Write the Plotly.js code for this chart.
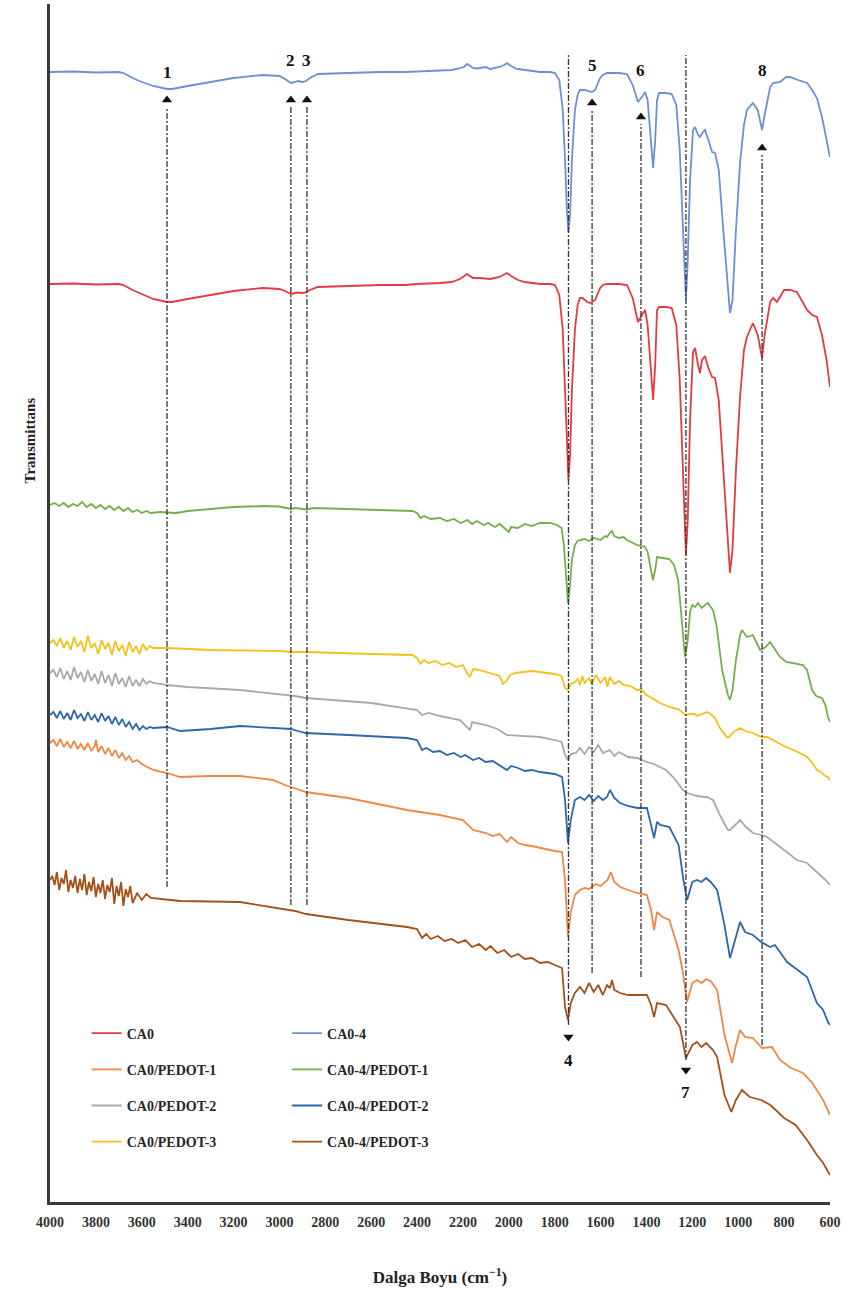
<!DOCTYPE html>
<html><head><meta charset="utf-8">
<script src="https://cdn.plot.ly/plotly-3.0.1.min.js"></script>
<style>html,body{margin:0;padding:0;background:#fff;} #chart{width:847px;height:1292px;}</style>
</head><body><div id="chart"></div>
<script>
// ---- Data (wavenumber in cm^-1, transmittance in arbitrary offset units) ----
const CA04_wn = [4000,3900,3800,3700,3680,3640,3600,3550,3490,3468,3400,3300,3200,3072,3000,2975,2950,2930,2919,2900,2884,2867,2832,2700,2560,2450,2400,2300,2250,2230,2213,2195,2182,2170,2156,2140,2126,2100,2082,2060,2040,2020,2008,1990,1975,1960,1930,1900,1864,1820,1799,1780,1765,1755,1747,1740,1733,1725,1712,1700,1690,1670,1655,1637,1624,1602,1590,1572,1520,1485,1460,1441,1437,1420,1406,1395,1380,1371,1362,1354,1345,1314,1290,1270,1255,1240,1228,1220,1210,1197,1188,1175,1167,1154,1145,1130,1114,1101,1085,1065,1045,1036,1025,1010,992,975,962,936,915,896,885,861,848,818,790,774,740,700,678,657,635,615,600];
const CA04_T = [1130,1130.5,1129.5,1130,1129,1124,1120,1116,1113,1113,1116,1120,1124,1127,1126,1123,1119,1120,1121,1120,1121,1124,1128,1129,1130,1130,1130.5,1131,1132,1133,1134,1135,1138,1136,1134,1133.5,1134,1135,1133,1134,1135,1137,1139,1136,1134,1133,1132,1131,1130,1130,1129,1122,1092,1042,992,970,987,1042,1092,1107,1112,1112,1111,1110,1112,1124,1127,1129,1129,1128,1117,1102,1100,1105,1110,1102,1062,1034,1062,1102,1109,1109,1108,1097,1052,962,902,942,1022,1072,1075,1067,1065,1070,1072,1062,1050,1049,1032,972,912,889,902,972,1039,1077,1092,1099,1092,1072,1087,1115,1119,1120,1125,1125,1122,1119,1112,1104,1085,1062,1045];

const CA0_wn = [4000,3900,3800,3700,3680,3640,3600,3550,3490,3468,3400,3300,3200,3072,3000,2975,2950,2930,2919,2900,2884,2867,2832,2700,2560,2450,2400,2300,2250,2213,2182,2170,2156,2126,2082,2040,2008,1990,1960,1930,1900,1864,1820,1799,1780,1765,1755,1747,1740,1733,1725,1712,1700,1690,1678,1659,1646,1637,1624,1602,1590,1572,1520,1485,1460,1441,1437,1420,1406,1395,1380,1371,1362,1354,1345,1314,1290,1270,1255,1240,1228,1220,1210,1197,1188,1175,1167,1158,1145,1130,1114,1101,1085,1065,1045,1036,1025,1010,992,975,962,936,915,896,885,861,848,840,831,800,774,744,700,678,657,635,615,600];
const CA0_T = [918,918.5,917.5,918,917,912,908,903,900,900,903,907,911,914,913,911,908,909,909.5,909,909.5,912,915,916,917,917,918,919,920,923,928,926,924,924,923,925,929,926,922,920,919,918,918,917,907,872,812,752,722,747,812,872,897,904,904,900,899,900,902,914,917,918,918,917,904,884,880,887,892,877,832,802,837,892,895,895,894,877,822,722,647,682,782,850,854,837,829,842,846,834,825,824,802,732,657,629,652,732,805,852,865,879,867,844,867,900,904,902,900,912,912,910,892,887,885,867,842,815];

const CA04P1_wn = [4000,3980,3960,3940,3920,3900,3880,3860,3840,3820,3800,3780,3760,3740,3720,3700,3680,3660,3640,3620,3600,3580,3560,3520,3490,3450,3400,3300,3200,3072,3000,2950,2930,2900,2884,2850,2700,2550,2420,2400,2385,2370,2340,2300,2270,2240,2210,2180,2160,2140,2110,2090,2060,2040,2010,2000,1990,1960,1930,1900,1864,1820,1790,1770,1760,1750,1742,1735,1725,1712,1700,1690,1670,1650,1630,1600,1580,1572,1560,1550,1540,1520,1500,1485,1460,1441,1420,1406,1395,1380,1372,1362,1354,1330,1300,1280,1262,1250,1240,1232,1220,1210,1200,1188,1175,1160,1145,1132,1120,1110,1095,1070,1045,1036,1025,1010,992,984,962,936,905,880,861,840,818,790,718,700,690,678,660,635,620,609,600];
const CA04P1_T = [697,699,696,699,695,698,696,700,695,698,694,697,693,696,692,695,691,694,690,692,689,691,689,690,689.5,689,691,693,695,696,695.5,693,694,693,692.5,694,693,692,691,689,684,686,683,684,681,683,679,682,678,681,677,679,675,678,672,670,675,674,678,676,679,679,677,674,657,622,599,612,642,657,661,662,663,661,664,662,666,665,669,671,666,664,665,662,659,657,656,655,650,632,622,632,645,644,643,637,622,592,562,545,562,590,597,595,599,594,597,599,595,592,577,532,507,502,512,542,567,572,565,567,552,555,560,552,545,540,537,532,524,512,506,504,497,485,480];

const CA0P3_wn = [4000,3985,3970,3955,3940,3925,3910,3895,3880,3865,3850,3835,3820,3805,3790,3775,3760,3745,3730,3715,3700,3685,3670,3655,3640,3625,3610,3595,3580,3565,3550,3490,3300,3000,2950,2880,2600,2420,2400,2385,2370,2350,2320,2290,2260,2230,2200,2185,2170,2155,2130,2100,2070,2040,2025,2010,1995,1970,1940,1900,1864,1800,1770,1755,1742,1730,1712,1700,1690,1680,1670,1650,1640,1620,1600,1580,1570,1560,1540,1520,1500,1470,1440,1420,1400,1370,1340,1300,1262,1240,1228,1210,1190,1180,1160,1136,1120,1101,1080,1050,1040,1020,992,970,936,900,874,848,800,740,700,670,657,640,620,609,600];
const CA0P3_T = [559,562,556,564,554,561,552,565,555,561,550,566,554,559,548,562,553,559,547,561,551,557,546,560,550,556,548,558,552,556,554,554,552,551,550,550,548,547,544,538,542,539,541,537,539,535,537,530,525,533,532,530,528,526,518,521,527,529,530,531,530,528,526,514,512,518,520,523,517,526,519,524,518,527,519,525,515,525,518,521,517,516,512,512,507,503,499,495,493,489,487,488,488,486,488,490,488,484,474,465,465,470,474,471,469,465,465,462,456,450,445,437,432,430,426,425,422];

const CA0P2_wn = [4000,3985,3970,3955,3940,3925,3910,3895,3880,3865,3850,3835,3820,3805,3790,3775,3760,3745,3730,3715,3700,3685,3670,3655,3640,3625,3610,3595,3580,3565,3550,3490,3400,3172,2932,2884,2600,2444,2400,2378,2350,2300,2260,2213,2169,2160,2100,2050,2008,1950,1900,1864,1800,1770,1755,1742,1730,1708,1690,1670,1650,1630,1610,1590,1560,1540,1520,1480,1440,1400,1367,1340,1315,1280,1254,1241,1223,1200,1180,1145,1136,1120,1110,1080,1045,1036,1020,992,970,936,900,874,840,800,744,700,657,620,600];
const CA0P2_T = [529,532,525,534,523,531,522,535,524,530,520,532,521,528,518,531,519,527,516,529,518,524,515,526,516,522,516,523,518,521,519,517,515,512,506,504,499,494,492,487,489,486,484,482,472,480,477,473,467,466,465,465,462,460,447,442,448,449,454,448,455,450,457,449,452,446,450,445,444,440,438,435,432,424,416,412,409,407,406,405,405,403,402,387,372,372,376,382,376,369,367,365,359,352,342,339,330,322,317];

const CA04P2_wn = [4000,3985,3970,3955,3940,3925,3910,3895,3880,3865,3850,3835,3820,3805,3790,3775,3760,3745,3730,3715,3700,3685,3670,3655,3640,3625,3610,3595,3580,3565,3550,3490,3433,3300,3172,3000,2950,2920,2884,2700,2444,2400,2378,2360,2330,2300,2270,2240,2210,2190,2156,2130,2100,2070,2040,2008,1990,1960,1930,1900,1864,1800,1768,1755,1742,1730,1712,1690,1670,1650,1630,1610,1590,1572,1559,1540,1515,1480,1441,1398,1380,1367,1354,1340,1300,1260,1241,1223,1200,1180,1160,1140,1120,1092,1060,1036,1020,992,970,936,900,861,840,787,700,657,630,609,600];
const CA04P2_T = [487,490,484,491,483,489,482,492,484,488,481,490,482,487,480,489,481,486,478,485,477,483,475,480,473,478,472,476,473,475,474,475,471,473,476,474,473,471,469,467,464,462,452,454,450,451,447,449,445,447,442,444,440,441,437,432,436,434,431,432,430,428,425,402,359,382,402,405,402,407,401,406,402,405,412,404,399,396,394,394,377,364,380,377,375,357,325,302,320,322,320,324,320,312,277,244,257,280,270,267,260,255,257,240,225,199,192,180,177];

const CA0P1_wn = [4000,3985,3970,3955,3940,3925,3910,3895,3880,3865,3850,3835,3820,3805,3800,3790,3775,3760,3745,3730,3715,3700,3685,3670,3655,3640,3620,3600,3550,3490,3433,3300,3172,3028,2976,2932,2884,2700,2444,2300,2200,2156,2100,2070,2040,2008,1990,1960,1930,1900,1864,1800,1768,1755,1742,1730,1712,1690,1670,1650,1620,1600,1570,1555,1540,1515,1480,1441,1398,1380,1367,1354,1330,1300,1260,1241,1223,1200,1180,1160,1140,1120,1092,1060,1027,1010,992,970,936,896,853,818,770,718,680,657,630,600];
const CA0P1_T = [459,462,456,463,455,460,454,461,453,458,452,459,451,456,462,450,456,448,454,446,452,444,449,442,446,440,442,438,432,429,425,426,426,422,417,414,410,404,392,387,382,372,369,366,368,360,365,359,357,356,354,351,350,322,265,290,307,312,314,313,318,316,322,330,320,315,312,309,307,292,272,290,285,282,252,229,200,219,222,219,223,221,212,167,139,157,172,165,164,154,155,142,134,129,120,112,102,87];

const CA04P3_wn = [4000,3990,3980,3970,3960,3950,3940,3930,3920,3910,3900,3890,3880,3870,3860,3850,3840,3830,3820,3810,3800,3790,3780,3770,3760,3750,3740,3730,3720,3710,3700,3690,3680,3670,3660,3650,3640,3620,3600,3580,3560,3490,3433,3172,3000,2932,2884,2700,2444,2400,2378,2360,2340,2310,2280,2250,2220,2190,2160,2130,2100,2080,2050,2020,1990,1960,1930,1900,1864,1830,1800,1768,1755,1742,1730,1712,1690,1670,1650,1630,1610,1590,1572,1559,1550,1540,1515,1480,1441,1398,1380,1367,1354,1315,1254,1240,1228,1200,1180,1160,1140,1110,1092,1060,1030,1010,984,950,900,860,800,750,700,657,630,600];
const CA04P3_T = [322,326,317,330,312,324,318,332,310,322,314,326,309,323,312,328,307,320,311,325,305,318,309,322,303,317,310,324,298,316,306,320,296,313,305,316,299,309,302,308,304,302,301,300,294,291,288,282,275,273,264,268,263,266,261,263,259,262,255,258,252,256,249,252,245,248,243,244,239,240,237,234,195,182,199,209,215,209,219,210,217,207,217,214,222,212,209,207,207,207,197,185,199,197,175,157,144,157,160,155,159,152,145,107,90,102,112,105,102,97,84,77,62,47,39,27];

// band assignments (wavenumber), dashed guide extents and label/arrow positions (same units as T)
const bandLabels = ['1','2','3','4','5','6','7','8'];
const bandWn     = [3490, 2950, 2880, 1740, 1637, 1424, 1228, 896];
const bandTop    = [1095, 1095, 1095, 1147, 1092, 1078, 1147, 1047];
const bandBottom = [315, 297, 297, 177, 229, 225, 142, 157];
const arrowT     = [1102, 1102, 1102, 165, 1099, 1085, 132, 1054];
const arrowDir   = ['up','up','up','down','up','up','down','up'];
const labelT     = [1130, 1142, 1142, 142, 1137, 1132, 110, 1132];

const xTicks = [4000,3800,3600,3400,3200,3000,2800,2600,2400,2200,2000,1800,1600,1400,1200,1000,800,600];

const series = [
  {name:'CA0-4', x:CA04_wn, y:CA04_T, color:'#6d90d2', legend:'legend2', rank:1},
  {name:'CA0', x:CA0_wn, y:CA0_T, color:'#e23c40', legend:'legend', rank:1},
  {name:'CA0-4/PEDOT-1', x:CA04P1_wn, y:CA04P1_T, color:'#77ad4c', legend:'legend2', rank:2},
  {name:'CA0/PEDOT-3', x:CA0P3_wn, y:CA0P3_T, color:'#f1c21b', legend:'legend', rank:4},
  {name:'CA0/PEDOT-2', x:CA0P2_wn, y:CA0P2_T, color:'#a9a9a9', legend:'legend', rank:3},
  {name:'CA0-4/PEDOT-2', x:CA04P2_wn, y:CA04P2_T, color:'#2e67a6', legend:'legend2', rank:3},
  {name:'CA0/PEDOT-1', x:CA0P1_wn, y:CA0P1_T, color:'#ee8847', legend:'legend', rank:2},
  {name:'CA0-4/PEDOT-3', x:CA04P3_wn, y:CA04P3_T, color:'#a3511b', legend:'legend2', rank:4}
];

const serif = '"Liberation Serif", "Times New Roman", serif';

const traces = series.map(s => ({
  type:'scatter', mode:'lines', name:s.name, x:s.x, y:s.y,
  line:{color:s.color, width:1.8},
  legend:s.legend, legendgroup:s.name, legendrank:s.rank,
  hoverinfo:'skip'
}));

traces.push({
  type:'scatter', mode:'markers', x:bandWn, y:arrowT, showlegend:false, hoverinfo:'skip',
  marker:{symbol:arrowDir.map(d => d === 'up' ? 'triangle-up' : 'triangle-down'), size:9, color:'#111'}
});

const shapes = bandWn.map((w,i) => ({
  type:'line', xref:'x', yref:'y', x0:w, x1:w, y0:bandBottom[i], y1:bandTop[i],
  line:{color:'#333', width:1.3, dash:'6px,2px,2px,2px'}
}));

const annotations = bandWn.map((w,i) => ({
  x:w, y:labelT[i], xref:'x', yref:'y', text:bandLabels[i], showarrow:false,
  font:{family:serif, size:17, weight:'bold', color:'#111'}
}));
annotations.push({
  xref:'paper', yref:'paper', x:-0.038, y:0.636, text:'Transmittans', textangle:-90,
  showarrow:false, font:{family:serif, size:15, weight:'bold', color:'#222'}
});

const legendBase = {
  xanchor:'left', yanchor:'top', y:0.154, bgcolor:'rgba(0,0,0,0)', borderwidth:0,
  font:{family:serif, size:14, weight:'bold', color:'#262626'}, tracegroupgap:15, itemwidth:30
};

const layout = {
  width:847, height:1292,
  margin:{l:50, r:17, t:4, b:90},
  paper_bgcolor:'#fff', plot_bgcolor:'#fff',
  font:{family:serif},
  showlegend:true,
  legend:Object.assign({}, legendBase, {x:0.047}),
  legend2:Object.assign({}, legendBase, {x:0.304}),
  xaxis:{
    range:[4000,600], tickvals:xTicks, ticktext:xTicks.map(String), ticks:'',
    ticklabelstandoff:5,
    showgrid:false, zeroline:false, showline:true, linecolor:'#3a3a3a', linewidth:3,
    tickfont:{family:serif, size:14, weight:'bold', color:'#333'},
    title:{text:'Dalga Boyu (cm<sup>−1</sup>)', font:{family:serif, size:17, weight:'bold', color:'#222'}, standoff:43}
  },
  yaxis:{
    range:[0,1198], showticklabels:false, ticks:'', showgrid:false, zeroline:false,
    showline:true, linecolor:'#3a3a3a', linewidth:3
  },
  shapes:shapes,
  annotations:annotations
};

Plotly.newPlot('chart', traces, layout, {staticPlot:true, displayModeBar:false});
</script></body></html>
